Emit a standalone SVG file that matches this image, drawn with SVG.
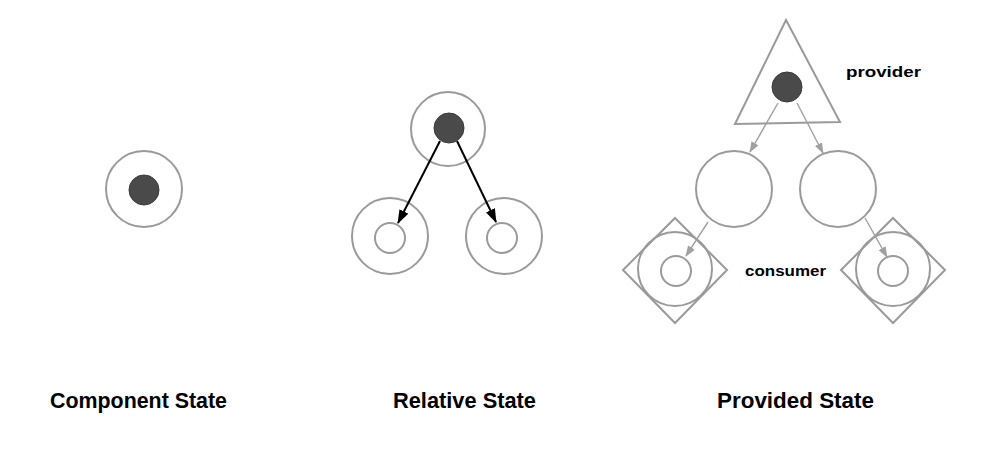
<svg xmlns="http://www.w3.org/2000/svg" width="1007" height="452" viewBox="0 0 1007 452">
  <defs>
    <style>
      .ring { fill: none; stroke: #9a9a9a; stroke-width: 2; }
      .dot { fill: #4a4a4a; stroke: #3a3a3a; stroke-width: 1; }
      .shape { fill: none; stroke: #9a9a9a; stroke-width: 2; stroke-linejoin: miter; }
      .title { font-family: "Liberation Sans", Arial, sans-serif; font-weight: bold; font-size: 22px; fill: #000; }
      .label { font-family: "Liberation Sans", Arial, sans-serif; font-weight: bold; font-size: 15px; fill: #000; }
      .blk { stroke: #000; stroke-width: 2; fill: none; }
      .gry { stroke: #a0a0a0; stroke-width: 1.4; fill: none; }
    </style>
    <marker id="ahBlack" markerUnits="userSpaceOnUse" markerWidth="14" markerHeight="10" refX="13" refY="5" orient="auto" viewBox="0 0 14 10">
      <path d="M0,0 L14,5 L0,10 Z" fill="#000"/>
    </marker>
    <marker id="ahGray" markerUnits="userSpaceOnUse" markerWidth="11" markerHeight="8" refX="10" refY="4" orient="auto" viewBox="0 0 11 8">
      <path d="M0,0 L11,4 L0,8 Z" fill="#a0a0a0"/>
    </marker>
  </defs>
  <rect width="1007" height="452" fill="#fff"/>

  <!-- Component State -->
  <g id="component-node">
    <circle class="ring" cx="144" cy="189" r="38"/>
    <circle class="dot" cx="144" cy="190" r="15"/>
  </g>

  <!-- Relative State -->
  <g id="relative-parent">
    <circle class="ring" cx="448" cy="129" r="37"/>
    <circle class="dot" cx="449" cy="128" r="15"/>
  </g>
  <g id="relative-child-left">
    <circle class="ring" cx="390" cy="236" r="38"/>
    <circle class="ring" cx="390" cy="238" r="15"/>
  </g>
  <g id="relative-child-right">
    <circle class="ring" cx="504" cy="236" r="38"/>
    <circle class="ring" cx="502" cy="238" r="15"/>
  </g>

  <!-- Provided State -->
  <g id="provider">
    <polygon class="shape" points="786,20 735,124 840,122"/>
    <circle class="dot" cx="787" cy="87" r="15"/>
    <text class="label" x="846" y="77" textLength="75" lengthAdjust="spacingAndGlyphs">provider</text>
  </g>
  <g id="middle-left">
    <circle class="ring" cx="734" cy="189" r="38"/>
  </g>
  <g id="middle-right">
    <circle class="ring" cx="838" cy="189" r="38"/>
  </g>
  <g id="consumer-left">
    <polygon class="shape" points="675,218 727,270 675,323 623,270"/>
    <circle class="ring" cx="675" cy="269" r="37"/>
    <circle class="ring" cx="676" cy="271" r="15"/>
  </g>
  <g id="consumer-right">
    <polygon class="shape" points="893,218 945,270 893,323 841,270"/>
    <circle class="ring" cx="893" cy="269" r="37"/>
    <circle class="ring" cx="893" cy="271" r="15"/>
  </g>
  <text id="consumer-label" class="label" x="745" y="276" textLength="81" lengthAdjust="spacingAndGlyphs">consumer</text>

  <!-- Connectors -->
  <g id="connectors">
    <line class="blk" x1="440" y1="141" x2="398" y2="223" marker-end="url(#ahBlack)"/>
    <line class="blk" x1="457" y1="141" x2="496" y2="222" marker-end="url(#ahBlack)"/>
    <line class="gry" x1="778" y1="103" x2="750" y2="152" marker-end="url(#ahGray)"/>
    <line class="gry" x1="797" y1="103" x2="823" y2="153" marker-end="url(#ahGray)"/>
    <line class="gry" x1="708" y1="222" x2="686" y2="256" marker-end="url(#ahGray)"/>
    <line class="gry" x1="865" y1="218" x2="887" y2="257" marker-end="url(#ahGray)"/>
  </g>

  <!-- Titles -->
  <g id="titles">
    <text class="title" x="50" y="408" textLength="177" lengthAdjust="spacingAndGlyphs">Component State</text>
    <text class="title" x="393" y="408" textLength="143" lengthAdjust="spacingAndGlyphs">Relative State</text>
    <text class="title" x="717" y="408" textLength="157" lengthAdjust="spacingAndGlyphs">Provided State</text>
  </g>
</svg>
